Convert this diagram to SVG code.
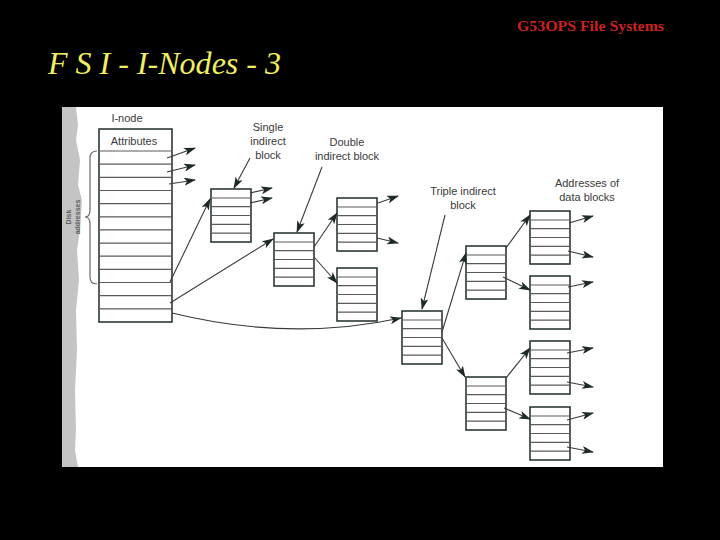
<svg xmlns="http://www.w3.org/2000/svg" xmlns:xlink="http://www.w3.org/1999/xlink" width="720" height="540" viewBox="0 0 720 540">
  <style>
    .lbl { font-family: "Liberation Sans", Arial, sans-serif; font-size: 11px; fill: #3a3a3a; text-anchor: middle; }
    .box { fill: #ffffff; stroke: #2c3838; stroke-width: 1.6; }
    .row { stroke: #5a5a5a; stroke-width: 1.2; fill: none; }
    .conn { stroke: #3a3a3a; stroke-width: 1.1; fill: none; marker-end: url(#ah); }
    .brace { stroke: #6a6a6a; stroke-width: 1.2; fill: none; }
  </style>
  <defs>
    <marker id="ah" markerUnits="userSpaceOnUse" markerWidth="12" markerHeight="8" refX="11" refY="4" orient="auto">
      <path d="M0,0 L12,4 L0,8 L3,4 Z" fill="#1e2a2a"/>
    </marker>
    <g id="blk">
      <rect class="box" x="0" y="0" width="40" height="53"/>
      <path class="row" d="M0,9 H40 M0,17.7 H40 M0,26.5 H40 M0,35.3 H40 M0,44.1 H40"/>
    </g>
  </defs>

  <rect x="0" y="0" width="720" height="540" fill="#000000"/>
  <text x="517" y="31" font-family="Liberation Serif, 'Times New Roman', serif" font-size="14" font-weight="bold" fill="#cc2020" textLength="147" lengthAdjust="spacingAndGlyphs">G53OPS File Systems</text>
  <text x="48" y="74" font-family="Liberation Serif, 'Times New Roman', serif" font-size="31" font-style="italic" fill="#f0f060" textLength="233" lengthAdjust="spacingAndGlyphs">F S I - I-Nodes - 3</text>

  <!-- white panel -->
  <rect x="62" y="107" width="601" height="360" fill="#ffffff"/>
  <path d="M62,107 H76 L78,125 L76,140 L80,160 L78,185 L82,200 L80,230 L77,250 L79,280 L76,310 L77,350 L75,390 L76,430 L75,450 L78,467 H62 Z" fill="#c4c4c4"/>
  <text transform="translate(71,217) rotate(-90)" font-family="Liberation Sans, Arial, sans-serif" font-size="7" font-weight="bold" fill="#606060" text-anchor="middle">Disk</text>
  <text transform="translate(80,217) rotate(-90)" font-family="Liberation Sans, Arial, sans-serif" font-size="7" font-weight="bold" fill="#606060" text-anchor="middle">addresses</text>

  <!-- i-node -->
  <g id="inode">
    <text class="lbl" x="127" y="122">I-node</text>
    <rect class="box" x="99" y="129" width="73" height="193"/>
    <text class="lbl" x="134" y="145">Attributes</text>
    <path class="row" d="M99,151 H172 M99,164.2 H172 M99,177.3 H172 M99,190.5 H172 M99,203.6 H172 M99,216.8 H172 M99,229.9 H172 M99,243.1 H172 M99,256.2 H172 M99,269.4 H172 M99,282.5 H172 M99,295.7 H172 M99,308.8 H172"/>
    <path class="brace" d="M97,151 Q90,151 90,158 V210 Q90,217 85,217 Q90,217 90,224 V277 Q90,284 97,284"/>
  </g>

  <g id="single-indirect">
    <use xlink:href="#blk" x="211" y="189"/>
    <text class="lbl" x="268" y="131">Single</text>
    <text class="lbl" x="268" y="145">indirect</text>
    <text class="lbl" x="268" y="159">block</text>
  </g>

  <g id="double-indirect">
    <use xlink:href="#blk" x="274" y="233"/>
    <text class="lbl" x="347" y="146">Double</text>
    <text class="lbl" x="347" y="160">indirect block</text>
  </g>
  <g id="double-child-1"><use xlink:href="#blk" x="337" y="198"/></g>
  <g id="double-child-2"><use xlink:href="#blk" x="337" y="268"/></g>

  <g id="triple-indirect">
    <use xlink:href="#blk" x="402" y="311"/>
    <text class="lbl" x="463" y="195">Triple indirect</text>
    <text class="lbl" x="463" y="209">block</text>
  </g>
  <g id="triple-child-1"><use xlink:href="#blk" x="466" y="246"/></g>
  <g id="triple-child-2"><use xlink:href="#blk" x="466" y="377"/></g>

  <g id="data-addr-label">
    <text class="lbl" x="587" y="187">Addresses of</text>
    <text class="lbl" x="587" y="201">data blocks</text>
  </g>
  <g id="data-block-a"><use xlink:href="#blk" x="530" y="211"/></g>
  <g id="data-block-b"><use xlink:href="#blk" x="530" y="276"/></g>
  <g id="data-block-c"><use xlink:href="#blk" x="530" y="341"/></g>
  <g id="data-block-d"><use xlink:href="#blk" x="530" y="407"/></g>

  <g id="connectors">
    <line class="conn" x1="167" y1="158" x2="195" y2="148"/>
    <line class="conn" x1="167" y1="172" x2="195" y2="165"/>
    <line class="conn" x1="169" y1="184" x2="195" y2="180"/>
    <line class="conn" x1="170" y1="282" x2="210" y2="199"/>
    <line class="conn" x1="170" y1="303" x2="273" y2="239"/>
    <path class="conn" d="M172,313 Q290,342 401,318"/>
    <line class="conn" x1="250" y1="193" x2="272" y2="188"/>
    <line class="conn" x1="250" y1="203" x2="272" y2="198"/>
    <line class="conn" x1="250" y1="158" x2="234" y2="188"/>
    <line class="conn" x1="322" y1="167" x2="297" y2="232"/>
    <line class="conn" x1="314" y1="247" x2="337" y2="213"/>
    <line class="conn" x1="314" y1="257" x2="337" y2="283"/>
    <line class="conn" x1="378" y1="203" x2="398" y2="196"/>
    <line class="conn" x1="377" y1="238" x2="398" y2="243"/>
    <line class="conn" x1="445" y1="215" x2="422" y2="309"/>
    <line class="conn" x1="442" y1="332" x2="466" y2="253"/>
    <line class="conn" x1="442" y1="338" x2="465" y2="377"/>
    <line class="conn" x1="506" y1="248" x2="530" y2="215"/>
    <line class="conn" x1="503" y1="277" x2="530" y2="290"/>
    <line class="conn" x1="506" y1="378" x2="530" y2="348"/>
    <line class="conn" x1="504" y1="408" x2="530" y2="419"/>
    <line class="conn" x1="569" y1="223" x2="593" y2="216"/>
    <line class="conn" x1="568" y1="251" x2="593" y2="257"/>
    <line class="conn" x1="568" y1="287" x2="593" y2="282"/>
    <line class="conn" x1="567" y1="353" x2="593" y2="348"/>
    <line class="conn" x1="567" y1="382" x2="593" y2="387"/>
    <line class="conn" x1="567" y1="420" x2="593" y2="413"/>
    <line class="conn" x1="567" y1="447" x2="593" y2="452"/>
  </g>
</svg>
